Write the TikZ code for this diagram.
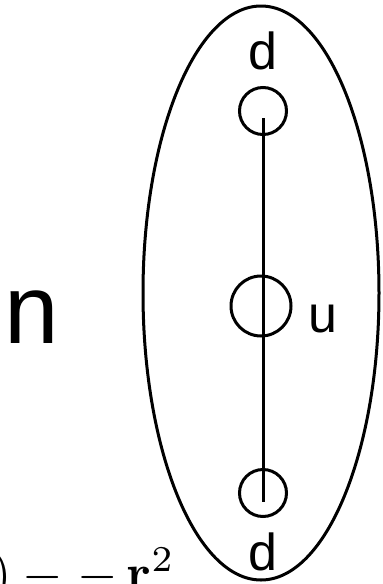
\documentclass[tikz,border=0pt]{standalone}
\usepackage{amsmath}
\usepackage{graphicx}
\usepackage[no-math]{fontspec}
\setmainfont{Liberation Sans}
\usetikzlibrary{positioning, shapes.geometric}

\begin{document}
\begin{tikzpicture}[
    x=1pt, y=-1pt,
    site/.style={draw, circle, line width=3pt, inner sep=0pt},
    lbl/.style={inner sep=0pt, anchor=base, font=\fontsize{52}{60}\selectfont},
  ]
    \useasboundingbox (0,0) rectangle (383,584);
    \clip (0,0) rectangle (383,584);

    % outer shell
    \node[draw, ellipse, line width=3pt, minimum width=236pt, minimum height=574pt, inner sep=0pt] (shell) at (261,293) {};

    % sites on the chain
    \node[site, minimum size=47pt] (dtop) at (263,111) {};
    \node[site, minimum size=60pt] (umid) at (261,306) {};
    \node[site, minimum size=47pt] (dbot) at (263,493) {};
    \draw[line width=3pt] ([yshift=-7pt]dtop.center) -- ([yshift=-9pt]dbot.center);

    \node[lbl] (ltop) at (263,69) {d};
    \node[lbl] (lmid) at (323,332) {u};
    \node[lbl] (lbot) at (263,570) {d};

    \node[lbl, font=\fontsize{98}{110}\selectfont] (lbig) at (32,343) {n};

    \node[inner sep=0pt, anchor=base west] (eq) at (-9,590) {\scalebox{5.2}{${)}\:{-}\;{-}\,\mathbf{r}^2$}};
\end{tikzpicture}
\end{document}
